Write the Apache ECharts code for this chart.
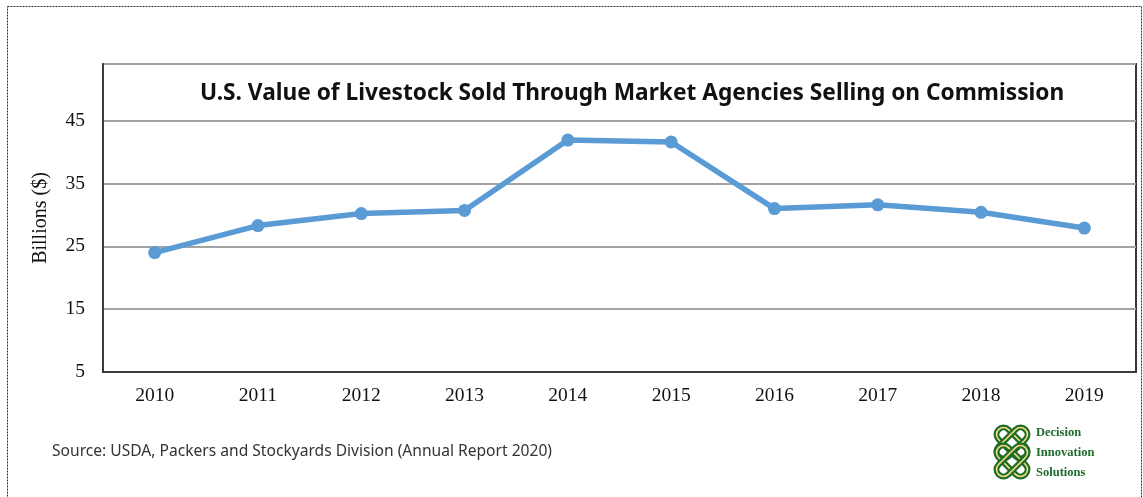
<!DOCTYPE html>
<html>
<head>
<meta charset="utf-8">
<script src="https://cdn.jsdelivr.net/npm/echarts@6/dist/echarts.min.js"></script>
<style>
  html, body { margin: 0; padding: 0; background: #fff; }
  #chart { width: 1143px; height: 497px; }
</style>
</head>
<body>
<div id="chart"></div>
<script>
// Years on the category axis
const years = ['2010', '2011', '2012', '2013', '2014', '2015', '2016', '2017', '2018', '2019'];
// Value of livestock sold through market agencies, billions of dollars
const salesValue = [24.0, 28.3, 30.2, 30.7, 41.9, 41.6, 31.0, 31.6, 30.4, 27.9];
// Value-axis ticks shown on the left
const yTicks = [5, 15, 25, 35, 45];

const titleText = 'U.S. Value of Livestock Sold Through Market Agencies Selling on Commission';
const sourceText = 'Source: USDA, Packers and Stockyards Division (Annual Report 2020)';
const logoLines = ['Decision', 'Innovation', 'Solutions'];

const chart = echarts.init(document.getElementById('chart'));

const serif = '"Liberation Serif", "DejaVu Serif", serif';
const sans = '"Noto Sans", "Open Sans", sans-serif';
const green = '#1e6b2c';
const gold = '#f2dc7a';

// Interlaced knot emblem made of rotated rounded loops
function knotLoop(cx, cy, rot, w, h) {
  const shape = { x: -w / 2, y: -h / 2, width: w, height: h, r: w / 2 };
  return [
    { type: 'rect', x: cx, y: cy, rotation: rot, shape,
      style: { fill: 'none', stroke: green, lineWidth: 6 } },
    { type: 'rect', x: cx, y: cy, rotation: rot, shape,
      style: { fill: 'none', stroke: gold, lineWidth: 1.6 } }
  ];
}

const logoElements = []
  .concat(knotLoop(1012, 443, Math.PI / 4, 14, 38))
  .concat(knotLoop(1012, 443, -Math.PI / 4, 14, 38))
  .concat(knotLoop(1012, 461, Math.PI / 4, 14, 38))
  .concat(knotLoop(1012, 461, -Math.PI / 4, 14, 38));

logoLines.forEach((t, i) => {
  logoElements.push({
    type: 'text', left: 1036, top: 426 + i * 20,
    style: { text: t, fill: green, font: 'bold 12.5px ' + serif }
  });
});

chart.setOption({
  animation: false,
  backgroundColor: '#ffffff',
  title: {
    text: titleText,
    left: 195, top: 77,
    textStyle: { fontFamily: sans, fontWeight: 'bold', fontSize: 22.7, color: '#111' }
  },
  grid: {
    left: 103, right: 7, top: 64, bottom: 125,
    show: true, borderColor: '#3a3a3a', borderWidth: 2, backgroundColor: 'transparent'
  },
  xAxis: {
    type: 'category',
    data: years,
    boundaryGap: true,
    axisLine: { show: true, lineStyle: { color: '#3a3a3a', width: 2 } },
    axisTick: { show: false },
    axisLabel: { margin: 14, fontFamily: serif, fontSize: 19.5, color: '#111' }
  },
  yAxis: {
    type: 'value',
    min: 5, max: 54, interval: 10,
    name: 'Billions ($)',
    nameLocation: 'middle', nameRotate: 90, nameGap: 52,
    nameTextStyle: { fontFamily: serif, fontSize: 20, color: '#111' },
    axisLine: { show: true, lineStyle: { color: '#3a3a3a', width: 2 } },
    axisTick: { show: false },
    axisLabel: {
      margin: 18, fontFamily: serif, fontSize: 19.5, color: '#111',
      formatter: v => (yTicks.indexOf(v) >= 0 ? String(v) : '')
    },
    splitLine: { show: true, lineStyle: { color: '#a3a3a3', width: 2 } }
  },
  series: [{
    type: 'line',
    data: salesValue,
    smooth: false,
    symbol: 'circle',
    symbolSize: 13,
    lineStyle: { color: '#5b9bd5', width: 5.5 },
    itemStyle: { color: '#5b9bd5' }
  }],
  graphic: [
    { type: 'rect', shape: { x: 7.5, y: 6.5, width: 1134, height: 500 },
      style: { fill: 'none', stroke: '#333', lineWidth: 1, lineDash: [2, 1] }, silent: true },
    { type: 'text', left: 52, top: 444,
      style: { text: sourceText, fill: '#333', font: '15.6px ' + sans } },
    { type: 'group', children: logoElements }
  ]
});
</script>
</body>
</html>
